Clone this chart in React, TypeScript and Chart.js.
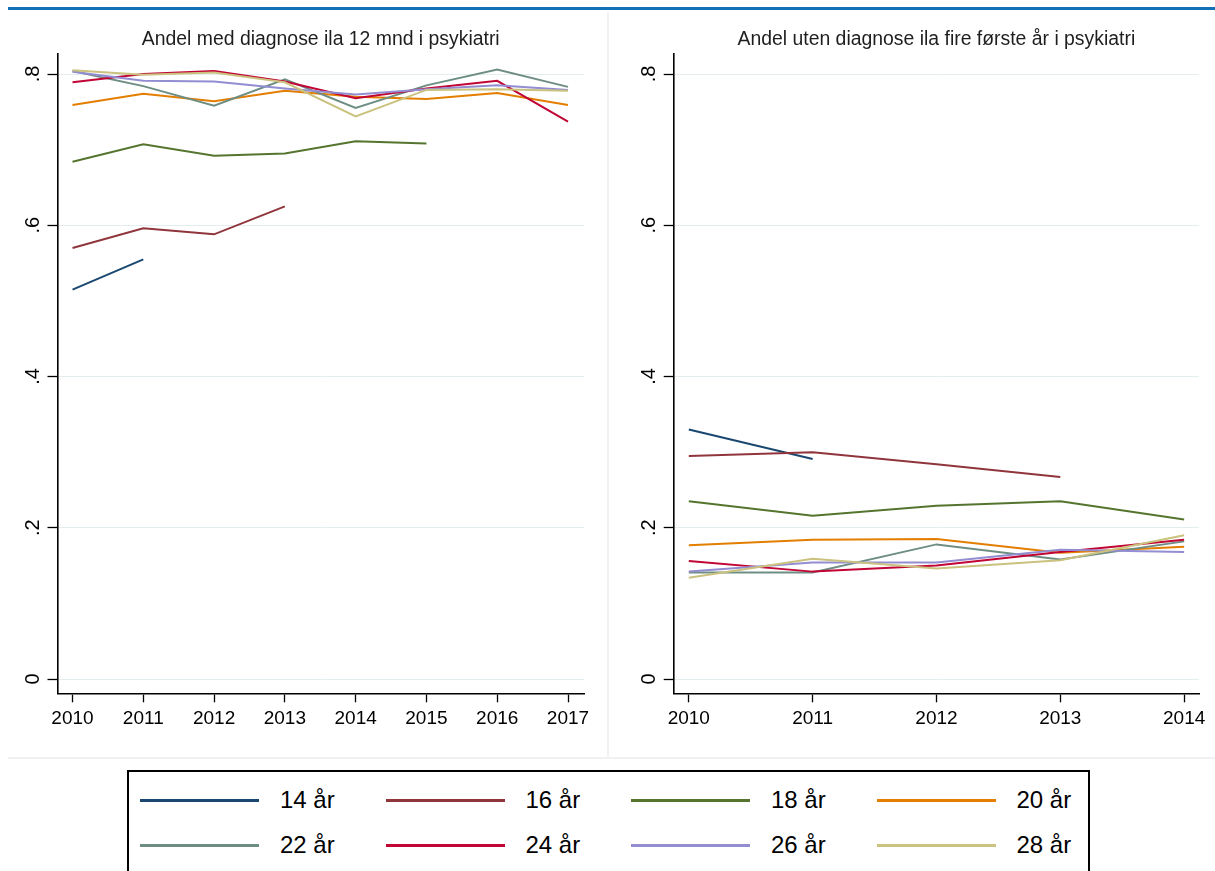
import React, { useEffect, useRef } from "react";
import { Chart, registerables } from "chart.js";

Chart.register(...registerables);

// ---------- data ----------
const seriesNames = ["14 år", "16 år", "18 år", "20 år", "22 år", "24 år", "26 år", "28 år"];
const seriesColors = ["#1a476f", "#90353b", "#55752f", "#e37e00", "#6e8e84", "#c10534", "#938dd2", "#cac27e"];

const leftTitle = "Andel med diagnose ila 12 mnd i psykiatri";
const rightTitle = "Andel uten diagnose ila fire første år i psykiatri";

const leftYears = [2010, 2011, 2012, 2013, 2014, 2015, 2016, 2017];
const rightYears = [2010, 2011, 2012, 2013, 2014];

const yTickValues = [0, 0.2, 0.4, 0.6, 0.8];
const yTickLabels = ["0", ".2", ".4", ".6", ".8"];

// left panel: Andel med diagnose ila 12 mnd
const left14 = [0.515, 0.555, null, null, null, null, null, null];
const left16 = [0.570, 0.596, 0.588, 0.625, null, null, null, null];
const left18 = [0.684, 0.707, 0.692, 0.695, 0.711, 0.708, null, null];
const left20 = [0.759, 0.774, 0.764, 0.778, 0.770, 0.767, 0.775, 0.759];
const left22 = [0.804, 0.784, 0.758, 0.793, 0.755, 0.785, 0.806, 0.783];
const left24 = [0.789, 0.800, 0.804, 0.790, 0.768, 0.781, 0.791, 0.737];
const left26 = [0.803, 0.791, 0.790, 0.781, 0.773, 0.780, 0.785, 0.779];
const left28 = [0.805, 0.799, 0.802, 0.789, 0.744, 0.779, 0.780, 0.778];

// right panel: Andel uten diagnose ila fire første år
const right14 = [0.330, 0.291, null, null, null];
const right16 = [0.295, 0.300, 0.284, 0.267, null];
const right18 = [0.235, 0.216, 0.229, 0.235, 0.211];
const right20 = [0.177, 0.184, 0.185, 0.167, 0.175];
const right22 = [0.141, 0.141, 0.178, 0.158, 0.182];
const right24 = [0.156, 0.142, 0.150, 0.168, 0.184];
const right26 = [0.142, 0.154, 0.154, 0.171, 0.168];
const right28 = [0.134, 0.159, 0.146, 0.157, 0.190];

const leftSeries = [left14, left16, left18, left20, left22, left24, left26, left28];
const rightSeries = [right14, right16, right18, right20, right22, right24, right26, right28];

const FONT = '"Liberation Sans", Arial, Helvetica, sans-serif';

const panelDecor = {
  id: "panelDecor",
  afterDraw(chart: any, _args: any, opts: any) {
    const ys = chart.scales.y;
    const ctx = chart.ctx;
    const area = chart.chartArea;
    ctx.save();
    // rotated y tick labels
    ctx.fillStyle = "#000";
    ctx.font = `20px ${FONT}`;
    ctx.textAlign = "center";
    ctx.textBaseline = "middle";
    yTickValues.forEach((v, i) => {
      const py = ys.getPixelForValue(v);
      ctx.save();
      ctx.translate(area.left - 24, py);
      ctx.rotate(-Math.PI / 2);
      ctx.fillText(yTickLabels[i], 0, 0);
      ctx.restore();
    });
    // title centred over the plot region
    ctx.fillStyle = "#1e1e1e";
    ctx.font = `19.4px ${FONT}`;
    ctx.textAlign = "center";
    ctx.textBaseline = "middle";
    ctx.fillText(opts.text, (area.left + area.right) / 2, 40);
    ctx.restore();
  },
};

function buildConfig(years: number[], series: (number | null)[][], title: string, xMin: number, xMax: number, padLeft: number, padRight: number): any {
  const datasets = series.map((vals, i) => ({
    label: seriesNames[i],
    data: years
      .map((yr, j) => ({ x: yr, y: vals[j] }))
      .filter((p) => p.y !== null && p.y !== undefined),
    borderColor: seriesColors[i],
    backgroundColor: seriesColors[i],
    borderWidth: 2,
    pointRadius: 0,
    fill: false,
    tension: 0,
    order: series.length - i,
  }));
  return {
    type: "line",
    data: { datasets },
    plugins: [panelDecor],
    options: {
      animation: false,
      responsive: false,
      maintainAspectRatio: false,
      events: [],
      layout: { padding: { left: padLeft, right: padRight, top: 53.3, bottom: 23.7 } },
      plugins: {
        legend: { display: false },
        tooltip: { enabled: false },
        title: { display: false },
        panelDecor: { text: title },
      },
      scales: {
        x: {
          type: "linear",
          min: xMin,
          max: xMax,
          afterBuildTicks: (s: any) => {
            s.ticks = years.map((v) => ({ value: v }));
          },
          afterFit: (s: any) => {
            s.height = 40;
          },
          ticks: {
            callback: (v: any) => String(v),
            color: "#000",
            font: { family: FONT, size: 19 },
            padding: 5.5,
            maxRotation: 0,
            minRotation: 0,
            autoSkip: false,
          },
          grid: {
            display: true,
            drawOnChartArea: false,
            drawTicks: true,
            tickLength: 9,
            tickColor: "#000",
            tickWidth: 1.3,
          },
          border: { display: true, color: "#000", width: 1.6 },
        },
        y: {
          type: "linear",
          min: -0.0189,
          max: 0.8274,
          afterBuildTicks: (s: any) => {
            s.ticks = yTickValues.map((v) => ({ value: v }));
          },
          afterFit: (s: any) => {
            s.width = 49.5;
          },
          ticks: { display: false },
          grid: {
            display: true,
            drawOnChartArea: true,
            color: "#e4edf0",
            lineWidth: 1,
            drawTicks: true,
            tickLength: 10,
            tickColor: "#000",
            tickWidth: 1.3,
          },
          border: { display: true, color: "#000", width: 1.6 },
        },
      },
    },
  };
}

function Panel(props: { left: number; width: number; years: number[]; series: (number | null)[][]; title: string; xMin: number; xMax: number; padLeft: number; padRight: number }) {
  const ref = useRef<HTMLCanvasElement>(null);
  useEffect(() => {
    if (!ref.current) return;
    const chart = new Chart(ref.current, buildConfig(props.years, props.series, props.title, props.xMin, props.xMax, props.padLeft, props.padRight));
    return () => chart.destroy();
  }, []);
  return (
    <canvas
      ref={ref}
      width={props.width}
      height={757}
      style={{ position: "absolute", left: props.left, top: 0, width: props.width, height: 757 }}
    />
  );
}

const legendColX = [140, 385.5, 631, 876.5];
const legendRowY = [800, 845];

export default function App() {
  return (
    <div
      style={{
        position: "absolute",
        left: 0,
        top: 0,
        width: 1215,
        height: 871,
        overflow: "hidden",
        background: "#fff",
        fontFamily: FONT,
      }}
    >
      <div style={{ position: "absolute", left: 8, top: 7, width: 1207, height: 2.7, background: "#1370b6" }} />
      <div style={{ position: "absolute", left: 607, top: 12, width: 2, height: 745, background: "#f0f1f2" }} />
      <div style={{ position: "absolute", left: 8, top: 757, width: 1207, height: 2, background: "#f0f1f2" }} />
      <Panel left={0} width={607} years={leftYears} series={leftSeries} title={leftTitle} xMin={2009.788} xMax={2017.226} padLeft={8} padRight={23} />
      <Panel left={609} width={606} years={rightYears} series={rightSeries} title={rightTitle} xMin={2009.878} xMax={2014.12} padLeft={15.2} padRight={16} />
      <div
        style={{
          position: "absolute",
          left: 127,
          top: 770,
          width: 963,
          height: 130,
          border: "2px solid #000",
          boxSizing: "border-box",
        }}
      />
      {seriesNames.map((name, i) => {
        const col = i % 4;
        const row = Math.floor(i / 4);
        const x = legendColX[col];
        const y = legendRowY[row];
        return (
          <React.Fragment key={name}>
            <div style={{ position: "absolute", left: x, top: y - 1.5, width: 119, height: 3, background: seriesColors[i] }} />
            <div
              style={{
                position: "absolute",
                left: x + 140,
                top: y - 15,
                height: 30,
                lineHeight: "30px",
                fontSize: 24,
                color: "#000",
                whiteSpace: "nowrap",
              }}
            >
              {name}
            </div>
          </React.Fragment>
        );
      })}
    </div>
  );
}
